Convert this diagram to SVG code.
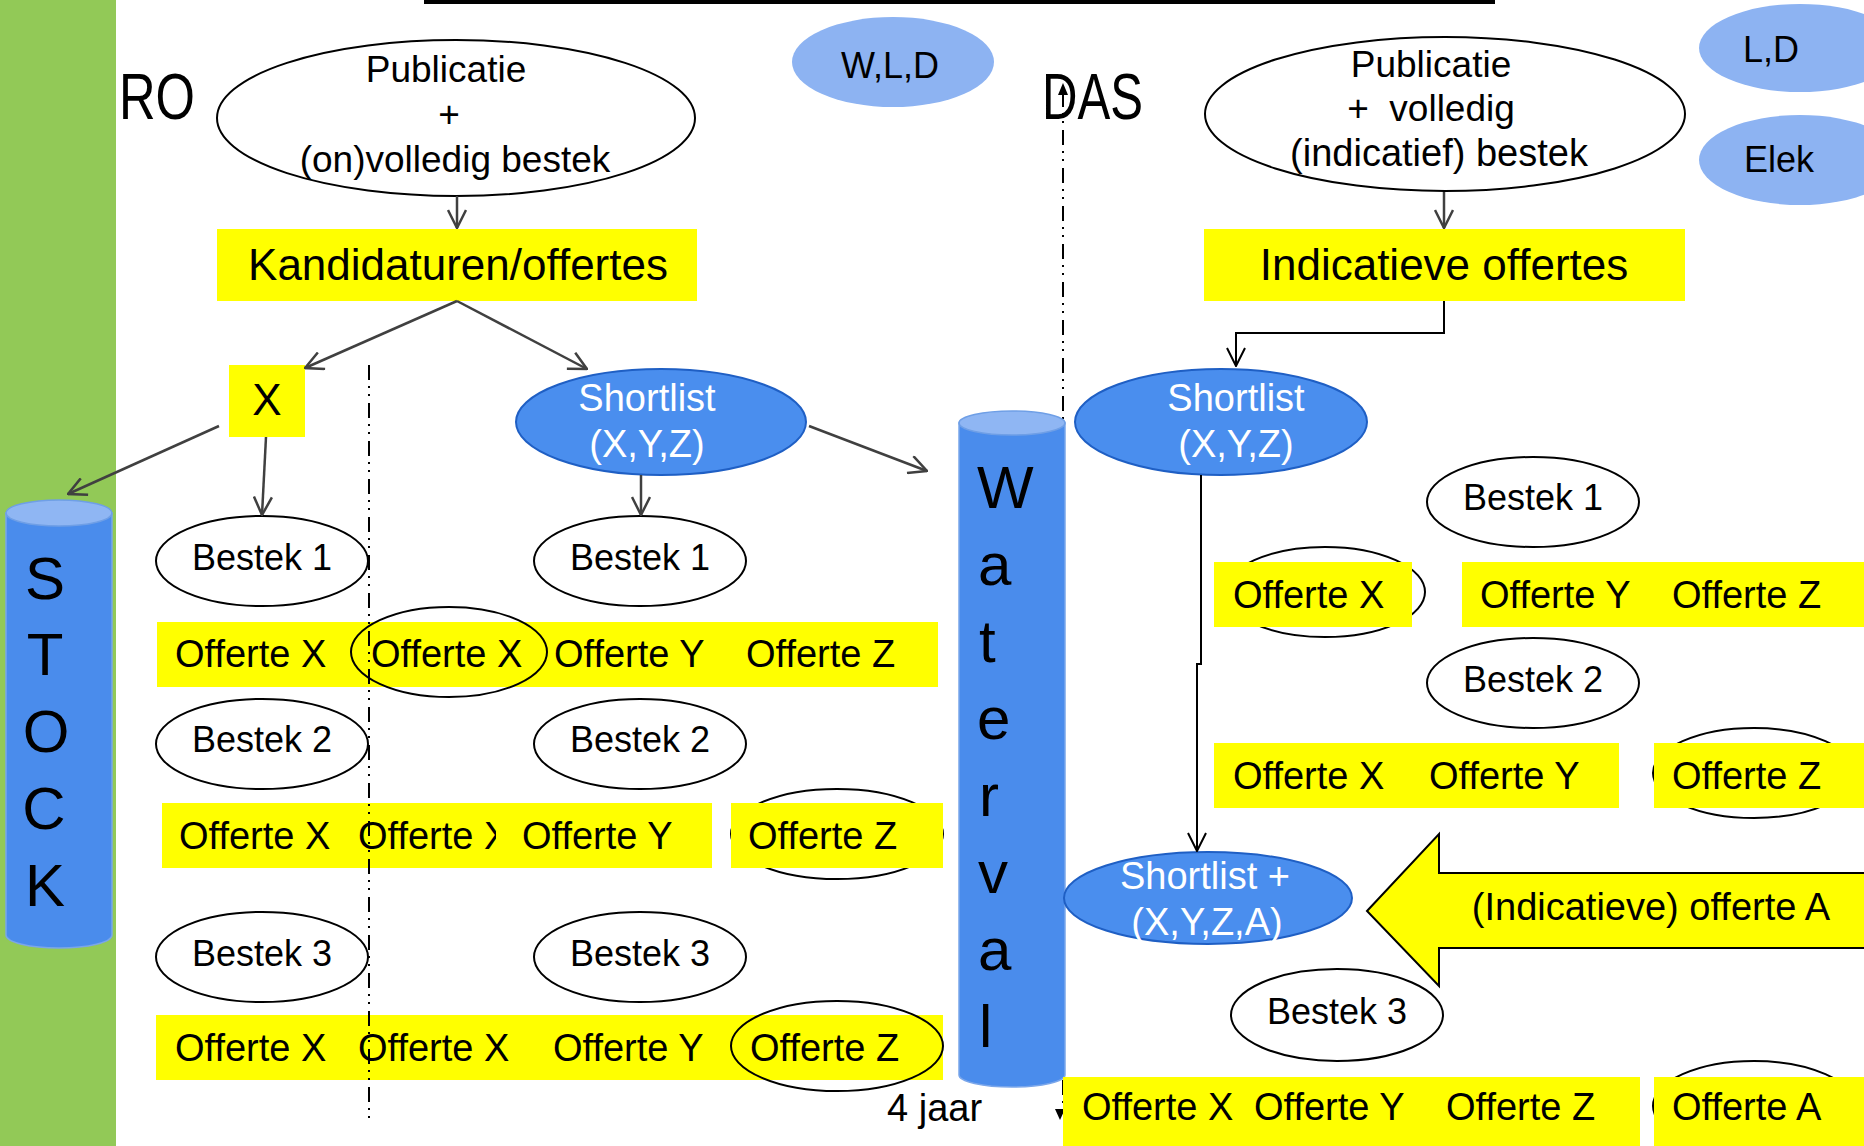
<svg xmlns="http://www.w3.org/2000/svg" width="1864" height="1146" viewBox="0 0 1864 1146">
<defs>
<marker id="ag" viewBox="0 0 20 20" refX="19" refY="10" markerWidth="20" markerHeight="20" markerUnits="userSpaceOnUse" orient="auto">
<path d="M1,1 L19,10 L1,19" fill="none" stroke="#404040" stroke-width="2.5"/>
</marker>
<marker id="ab" viewBox="0 0 20 20" refX="19" refY="10" markerWidth="20" markerHeight="20" markerUnits="userSpaceOnUse" orient="auto">
<path d="M1,1 L19,10 L1,19" fill="none" stroke="#000" stroke-width="2"/>
</marker>
</defs>
<style>
text{font-family:"Liberation Sans",Arial,sans-serif;fill:#000}
.m{text-anchor:middle}
.f36{font-size:36px}
.f37{font-size:37px}
.f38{font-size:38px}
.f44{font-size:44px}
.f60{font-size:60px}
.w{fill:#fff}
.yel{fill:#ffff00}
.oval{fill:#fff;stroke:#000;stroke-width:2}
.ring{fill:none;stroke:#000;stroke-width:2}
.lb{fill:#8db3f2}
.sl{fill:#4a8eee;stroke:#1f5fc4;stroke-width:2}
.cyl{fill:#4a8cec;stroke:#7aa6ea;stroke-width:1.5}
.cap{fill:#8fb6f3;stroke:#6f9fe6;stroke-width:1.5}
.cg{fill:none;stroke:#404040;stroke-width:2.5;marker-end:url(#ag)}
.ck{fill:none;stroke:#000;stroke-width:2;marker-end:url(#ab)}
.dd{stroke:#000;stroke-width:2;stroke-dasharray:15 6 2 6 2 7;fill:none}
</style>
<rect x="0" y="0" width="1864" height="1146" fill="#fff"/>
<rect x="0" y="0" width="116" height="1146" fill="#92c957"/>
<rect x="424" y="0" width="1071" height="4" fill="#000"/>

<g id="title-ro"><text x="119" y="119" font-size="64" textLength="76" lengthAdjust="spacingAndGlyphs">RO</text></g>
<g id="title-das"><text x="1042" y="119" font-size="64" textLength="101" lengthAdjust="spacingAndGlyphs">DAS</text></g>

<g id="divider-right">
<line x1="1063" y1="92" x2="1063" y2="1110" class="dd"/>
<path d="M1063,83 L1058,95 L1068,95 Z" fill="#000"/>
<path d="M1055,1109 L1065,1109 L1060,1120 Z" fill="#000"/>
</g>

<g id="wld"><ellipse cx="893" cy="62" rx="101" ry="45" class="lb"/><text x="890" y="78" class="f36 m">W,L,D</text></g>
<g id="ld"><ellipse cx="1800" cy="48" rx="101" ry="44" class="lb"/><text x="1771" y="62" class="f36 m">L,D</text></g>
<g id="elek"><ellipse cx="1800" cy="160" rx="101" ry="45" class="lb"/><text x="1779" y="172" class="f36 m">Elek</text></g>

<g id="pub-left"><ellipse cx="456" cy="118" rx="239" ry="78" class="oval"/>
<text x="446" y="82" class="f37 m">Publicatie</text>
<text x="449" y="127" class="f37 m">+</text>
<text x="455" y="172" class="f37 m">(on)volledig bestek</text></g>

<g id="pub-right"><ellipse cx="1445" cy="114" rx="240" ry="77" class="oval"/>
<text x="1431" y="77" class="f37 m">Publicatie</text>
<text x="1431" y="121" class="f37 m" xml:space="preserve">+  volledig</text>
<text x="1439" y="166" class="f38 m">(indicatief) bestek</text></g>

<g id="kand"><rect x="217" y="229" width="480" height="72" class="yel"/><text x="458" y="280" class="f44 m">Kandidaturen/offertes</text></g>
<g id="indic"><rect x="1204" y="229" width="481" height="72" class="yel"/><text x="1444" y="280" class="f44 m">Indicatieve offertes</text></g>

<g id="x-box"><rect x="229" y="365" width="76" height="72" class="yel"/><text x="267" y="415" class="f44 m">X</text></g>

<g id="shortlist-left"><ellipse cx="661" cy="422" rx="145" ry="53" class="sl"/>
<text x="647" y="411" class="f38 m w">Shortlist</text><text x="647" y="457" class="f38 m w">(X,Y,Z)</text></g>

<g id="shortlist-right"><ellipse cx="1221" cy="422" rx="146" ry="53" class="sl"/>
<text x="1236" y="411" class="f38 m w">Shortlist</text><text x="1236" y="457" class="f38 m w">(X,Y,Z)</text></g>

<g id="stock"><path d="M6,513 V935 A53,13 0 0 0 112,935 V513 Z" class="cyl"/><ellipse cx="59" cy="513" rx="53" ry="13" class="cap"/>
<text x="45" y="599" class="f60 m">S</text><text x="45" y="675" class="f60 m">T</text><text x="46" y="752" class="f60 m">O</text><text x="44" y="829" class="f60 m">C</text><text x="45" y="906" class="f60 m">K</text></g>

<g id="waterval"><path d="M959,423 V1075 A53,12 0 0 0 1065,1075 V423 Z" class="cyl"/><ellipse cx="1012" cy="423" rx="53" ry="12" class="cap"/>
<text x="977" y="508" class="f60">W</text><text x="978" y="585" class="f60">a</text><text x="979" y="662" class="f60">t</text><text x="977" y="739" class="f60">e</text><text x="979" y="816" class="f60">r</text><text x="978" y="893" class="f60">v</text><text x="978" y="970" class="f60">a</text><text x="979" y="1047" class="f60">l</text></g>

<g id="bestek-l1"><ellipse cx="262" cy="561" rx="106" ry="45" class="oval"/><text x="262" y="570" class="f36 m">Bestek 1</text></g>
<g id="bestek-m1"><ellipse cx="640" cy="561" rx="106" ry="45" class="oval"/><text x="640" y="570" class="f36 m">Bestek 1</text></g>
<g id="bestek-l2"><ellipse cx="262" cy="744" rx="106" ry="45" class="oval"/><text x="262" y="752" class="f36 m">Bestek 2</text></g>
<g id="bestek-m2"><ellipse cx="640" cy="744" rx="106" ry="45" class="oval"/><text x="640" y="752" class="f36 m">Bestek 2</text></g>
<g id="bestek-l3"><ellipse cx="262" cy="957" rx="106" ry="45" class="oval"/><text x="262" y="966" class="f36 m">Bestek 3</text></g>
<g id="bestek-m3"><ellipse cx="640" cy="957" rx="106" ry="45" class="oval"/><text x="640" y="966" class="f36 m">Bestek 3</text></g>

<g id="row-l1"><rect x="157" y="622" width="781" height="65" class="yel"/>
<text x="175" y="667" class="f38">Offerte X</text><text x="371" y="667" class="f38">Offerte X</text><text x="554" y="667" class="f38">Offerte Y</text><text x="746" y="667" class="f38">Offerte Z</text>
<ellipse cx="449" cy="652" rx="98" ry="45" class="ring"/></g>

<g id="row-l2"><ellipse cx="837" cy="834" rx="106" ry="45" class="ring"/>
<rect x="162" y="803" width="550" height="65" class="yel"/>
<text x="179" y="849" class="f38">Offerte X</text><text x="358" y="849" class="f38">Offerte X</text>
<rect x="496" y="803" width="216" height="65" class="yel"/>
<text x="522" y="849" class="f38">Offerte Y</text>
<rect x="731" y="803" width="212" height="65" class="yel"/>
<text x="748" y="849" class="f38">Offerte Z</text></g>

<g id="row-l3"><rect x="156" y="1015" width="787" height="65" class="yel"/>
<text x="175" y="1061" class="f38">Offerte X</text><text x="358" y="1061" class="f38">Offerte X</text><text x="553" y="1061" class="f38">Offerte Y</text><text x="750" y="1061" class="f38">Offerte Z</text>
<ellipse cx="837" cy="1046" rx="106" ry="45" class="ring"/></g>

<g id="vier-jaar"><text x="887" y="1121" class="f38">4 jaar</text></g>

<g id="bestek-r1"><ellipse cx="1533" cy="502" rx="106" ry="45" class="oval"/><text x="1533" y="510" class="f36 m">Bestek 1</text></g>
<g id="row-r1"><ellipse cx="1325" cy="592" rx="100" ry="45" class="ring"/>
<rect x="1214" y="562" width="198" height="65" class="yel"/><text x="1233" y="608" class="f38">Offerte X</text>
<rect x="1462" y="562" width="402" height="65" class="yel"/><text x="1480" y="608" class="f38">Offerte Y</text><text x="1672" y="608" class="f38">Offerte Z</text></g>

<g id="bestek-r2"><ellipse cx="1533" cy="683" rx="106" ry="45" class="oval"/><text x="1533" y="692" class="f36 m">Bestek 2</text></g>
<g id="row-r2"><ellipse cx="1754" cy="773" rx="101" ry="45" class="ring"/>
<rect x="1214" y="743" width="405" height="65" class="yel"/><text x="1233" y="789" class="f38">Offerte X</text><text x="1429" y="789" class="f38">Offerte Y</text>
<rect x="1654" y="743" width="210" height="65" class="yel"/><text x="1672" y="789" class="f38">Offerte Z</text></g>

<g id="shortlist-plus"><ellipse cx="1208" cy="898" rx="144" ry="46" class="sl"/>
<text x="1205" y="889" class="f38 m w">Shortlist +</text><text x="1207" y="935" class="f38 m w">(X,Y,Z,A)</text></g>

<g id="offerte-a-arrow"><path d="M1367,911 L1439,834 L1439,873 L1870,873 L1870,948 L1439,948 L1439,986 Z" fill="#ffff00" stroke="#000" stroke-width="2"/>
<text x="1651" y="920" class="f38 m">(Indicatieve) offerte A</text></g>

<g id="bestek-r3"><ellipse cx="1337" cy="1015" rx="106" ry="46" class="oval"/><text x="1337" y="1024" class="f36 m">Bestek 3</text></g>
<g id="row-r3"><ellipse cx="1754" cy="1106" rx="101" ry="45" class="ring"/>
<rect x="1063" y="1077" width="577" height="69" class="yel"/>
<text x="1082" y="1120" class="f38">Offerte X</text><text x="1254" y="1120" class="f38">Offerte Y</text><text x="1446" y="1120" class="f38">Offerte Z</text>
<rect x="1654" y="1077" width="210" height="69" class="yel"/><text x="1672" y="1120" class="f38">Offerte A</text></g>

<g id="connectors">
<line x1="457" y1="196" x2="457" y2="228" class="cg"/>
<line x1="457" y1="301" x2="305" y2="368" class="cg"/>
<line x1="457" y1="301" x2="587" y2="369" class="cg"/>
<line x1="219" y1="426" x2="68" y2="494" class="cg"/>
<line x1="266" y1="437" x2="262" y2="515" class="cg"/>
<line x1="641" y1="475" x2="641" y2="515" class="cg"/>
<line x1="809" y1="426" x2="927" y2="471" class="cg"/>
<line x1="1444" y1="192" x2="1444" y2="228" class="cg"/>
<path d="M1444,301 V333 H1236 V366" class="ck"/>
<path d="M1201,475 V664 H1197 V851" class="ck"/>
</g>

<g id="divider-left"><line x1="369" y1="365" x2="369" y2="1119" class="dd"/></g>
</svg>
